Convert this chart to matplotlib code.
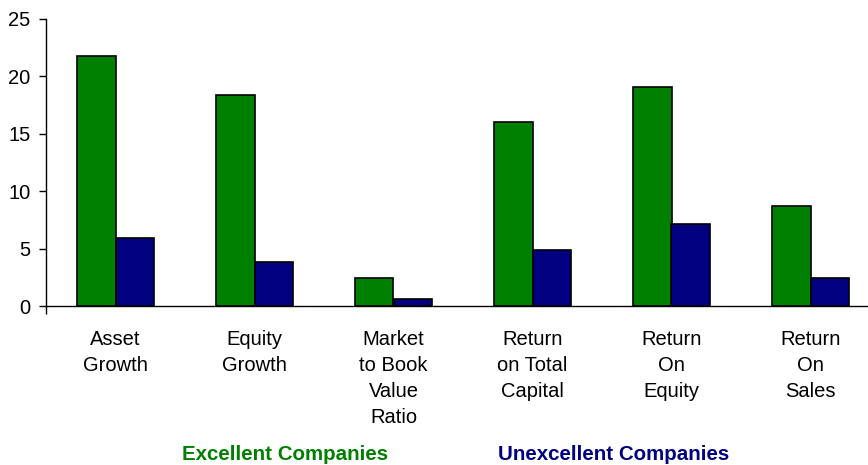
import matplotlib
matplotlib.use("Agg")
import matplotlib.pyplot as plt
import numpy as np

categories = ["Asset\nGrowth", "Equity\nGrowth", "Market\nto Book\nValue\nRatio",
              "Return\non Total\nCapital", "Return\nOn\nEquity", "Return\nOn\nSales"]
excellent = [21.8, 18.4, 2.4, 16.0, 19.1, 8.7]
unexcellent = [5.9, 3.8, 0.6, 4.9, 7.1, 2.4]
yticks = [0, 5, 10, 15, 20, 25]

plt.rcParams['font.family'] = ['Liberation Sans', 'DejaVu Sans']

fig = plt.figure(figsize=(8.68, 4.65), dpi=100)
ax = fig.add_axes([46/868, (465-306)/465, 834/868, 287/465])

x = np.arange(len(categories))
w = 0.28
ax.bar(x - w/2, excellent, width=w, color="#008000", edgecolor="black", linewidth=1.2)
ax.bar(x + w/2, unexcellent, width=w, color="#000080", edgecolor="black", linewidth=1.2)

ax.set_xlim(-0.5, len(categories) - 0.5)
ax.set_ylim(0, 25)
ax.set_yticks(yticks)
ax.set_yticklabels([str(v) for v in yticks], fontsize=14.5)
ax.tick_params(axis='y', direction='out', length=5, width=1, pad=6)
ax.set_xticks(x)
ax.set_xticklabels(categories, fontsize=14.5, linespacing=1.48)
ax.tick_params(axis='x', which='major', length=0, pad=17)
ax.set_xticks([-0.5], minor=True)
ax.tick_params(axis='x', which='minor', direction='out', length=6, width=1)

for s in ['top', 'right']:
    ax.spines[s].set_visible(False)
ax.spines['left'].set_linewidth(1)
ax.spines['bottom'].set_linewidth(1)

fig.text(285/868, 1 - 454/465, "Excellent Companies", color="#008000",
         fontsize=14.8, fontweight='bold', ha='center', va='center')
fig.text(614/868, 1 - 454/465, "Unexcellent Companies", color="#000080",
         fontsize=14.8, fontweight='bold', ha='center', va='center')

fig.savefig("out.png", dpi=100)
